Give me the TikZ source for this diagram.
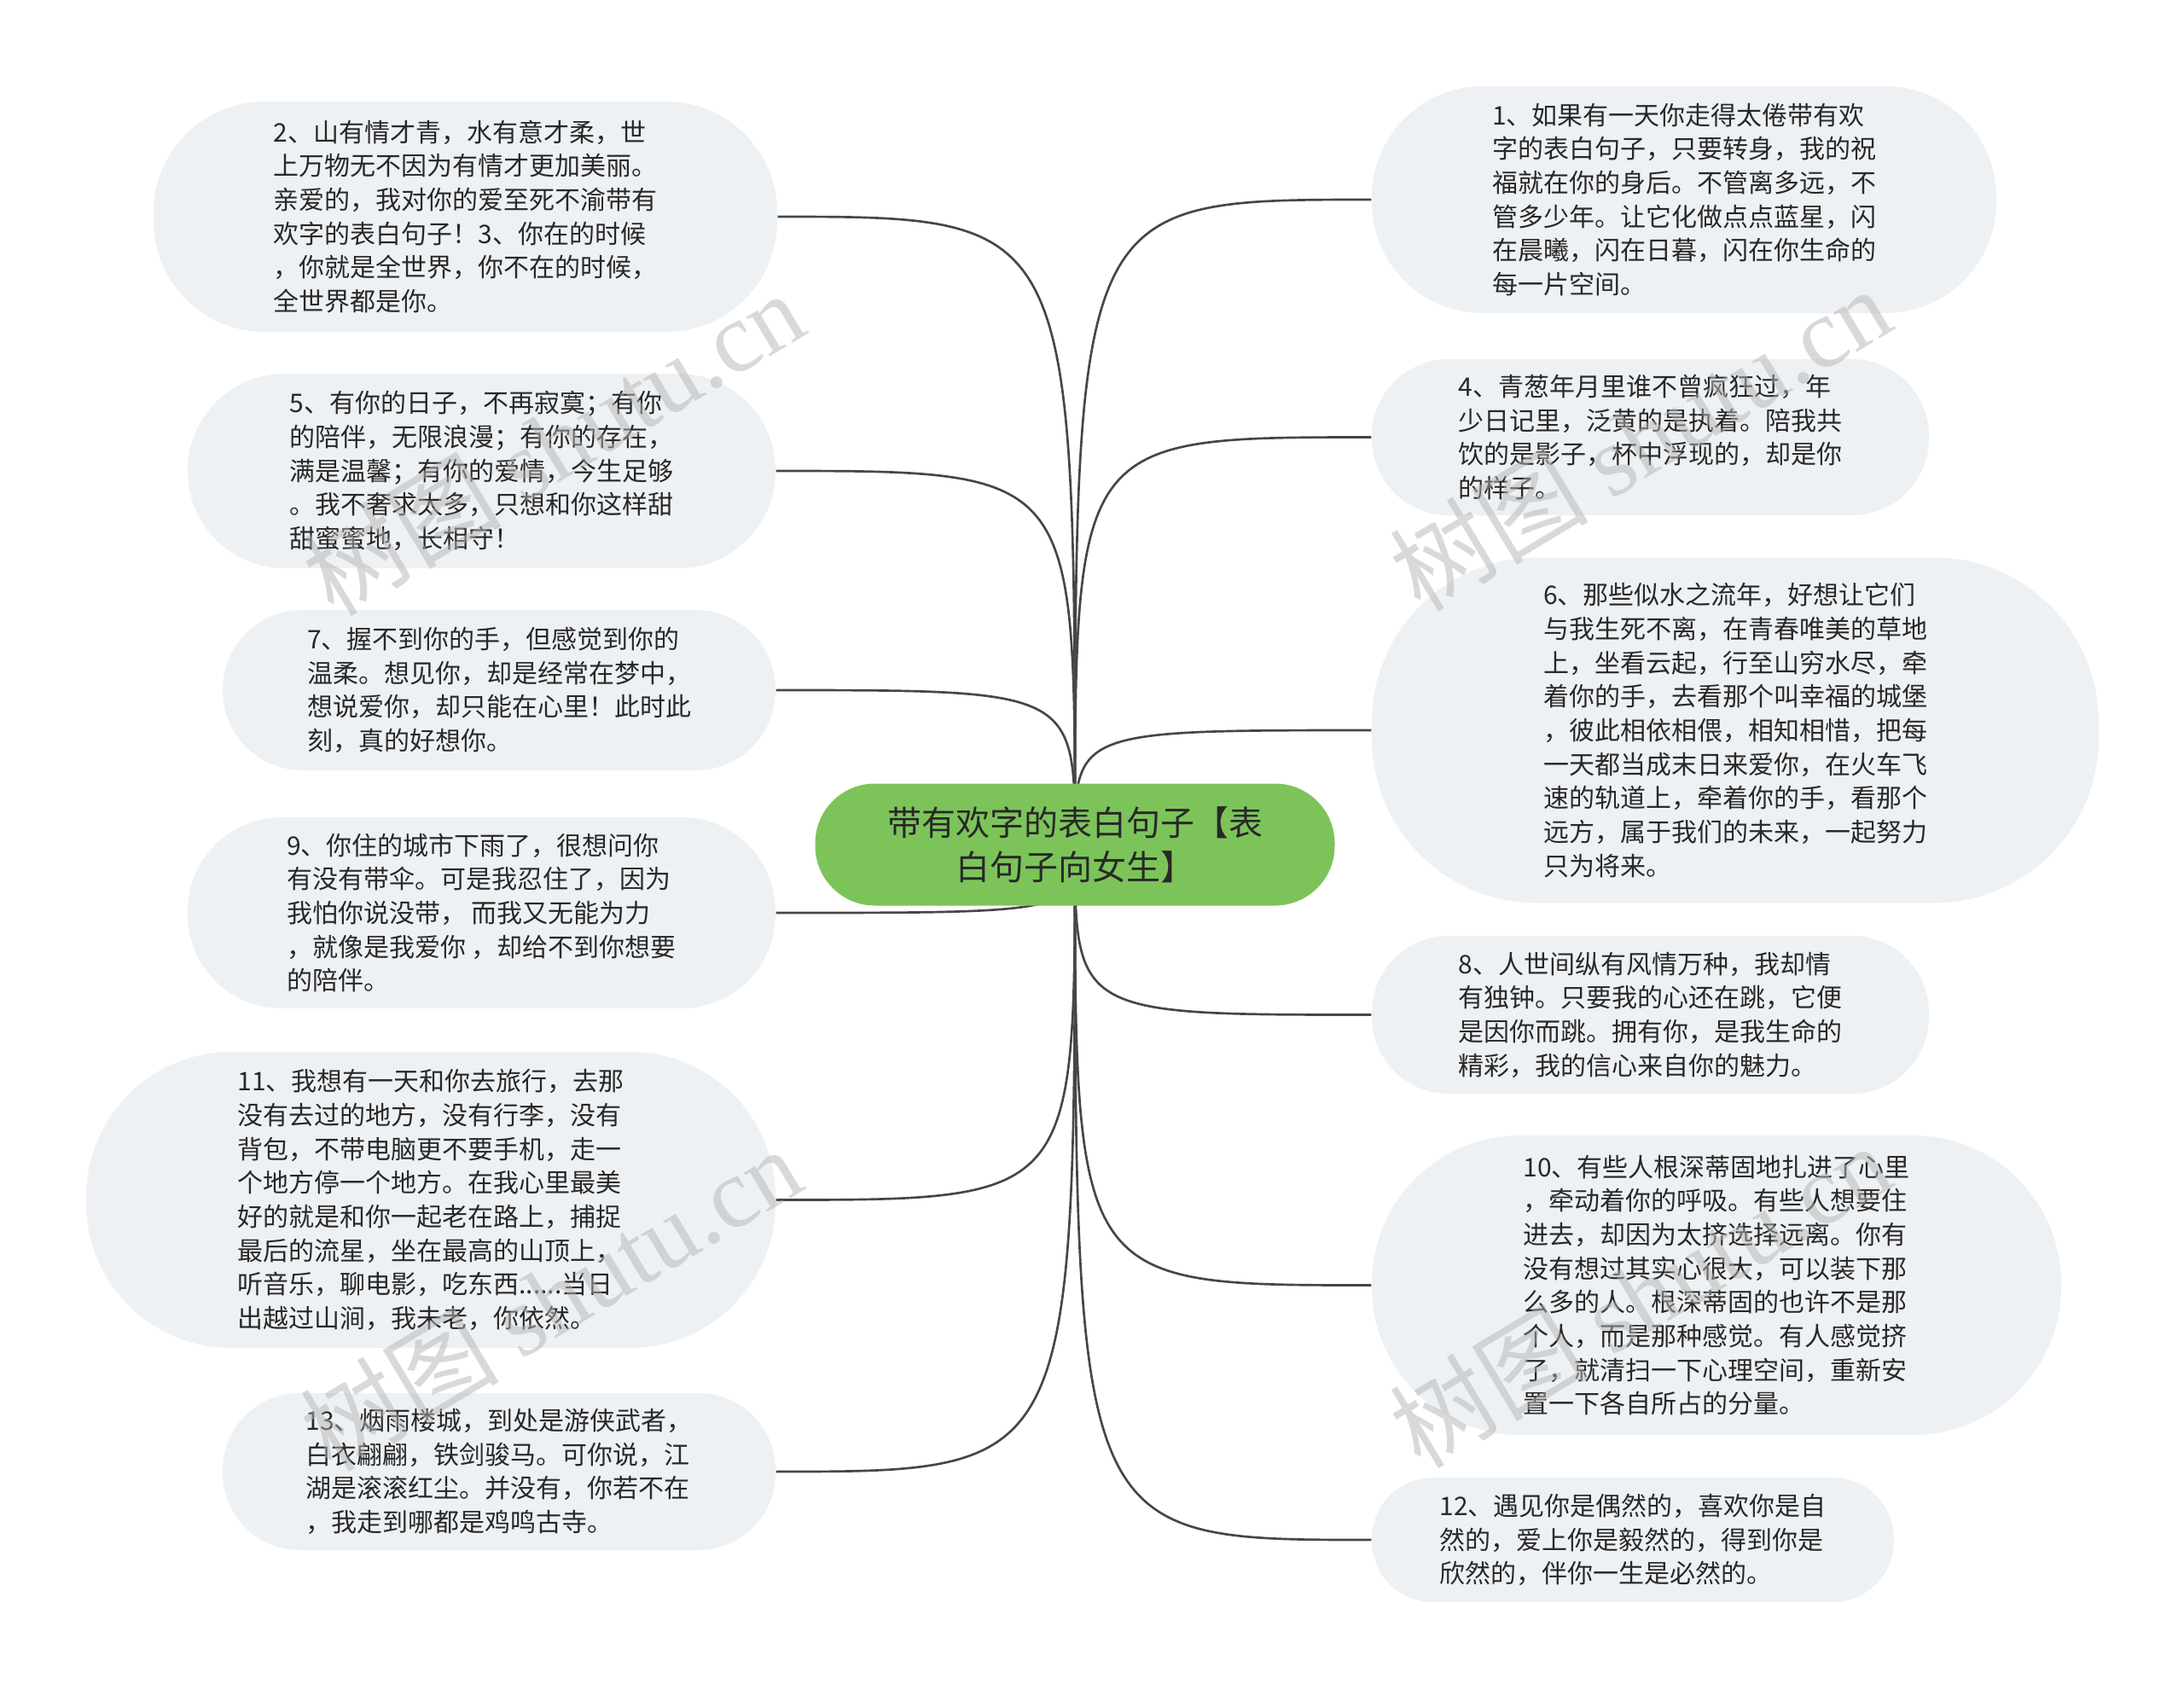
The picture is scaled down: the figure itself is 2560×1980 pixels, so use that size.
\documentclass[tikz,border=0pt]{standalone}
\usepackage{fontspec}
\setmainfont{Noto Sans CJK SC}
\newfontfamily\wmserif{Liberation Serif}
\usetikzlibrary{backgrounds}
\definecolor{leaffill}{RGB}{238,241,244}
\definecolor{rootfill}{RGB}{124,196,90}
\definecolor{linecol}{RGB}{70,70,70}
\definecolor{txt}{RGB}{40,40,40}
\definecolor{wm}{RGB}{180,180,180}
\begin{document}
\begin{tikzpicture}[x=0.3pt,y=-0.3pt,
  leaf/.style={fill=leaffill, align=left, text=txt, font=\fontsize{9.0}{11.9}\selectfont, inner sep=0pt},
  rootnode/.style={fill=rootfill, align=center, text=txt, font=\fontsize{12}{15.7}\selectfont, inner sep=0pt, minimum width=182.7pt, minimum height=42.9pt, rounded corners=21pt},
  conn/.style={draw=linecol, line width=0.8pt},
  wmark/.style={text=wm, opacity=0.5, rotate=31, font=\fontsize{35}{40}\selectfont}
]
\useasboundingbox (0,0) rectangle (2560,1980);

\node[rootnode] (root) at (1260,990) {带有欢字的表白句子【表\\白句子向女生】};

% left side
\node[leaf, minimum width=219.3pt, minimum height=81pt, rounded corners=39pt] (n2) at (545.5,254) {2、山有情才青，水有意才柔，世\\上万物无不因为有情才更加美丽。\\亲爱的，我对你的爱至死不渝带有\\欢字的表白句子！3、你在的时候\\，你就是全世界，你不在的时候，\\全世界都是你。};
\node[leaf, minimum width=206.7pt, minimum height=68.4pt, rounded corners=34pt] (n5) at (564.5,552) {5、有你的日子，不再寂寞；有你\\的陪伴，无限浪漫；有你的存在，\\满是温馨；有你的爱情，今生足够\\。我不奢求太多，只想和你这样甜\\甜蜜蜜地，长相守！};
\node[leaf, minimum width=194.4pt, minimum height=56.4pt, rounded corners=28pt] (n7) at (585,809) {7、握不到你的手，但感觉到你的\\温柔。想见你，却是经常在梦中，\\想说爱你，却只能在心里！此时此\\刻，真的好想你。};
\node[leaf, minimum width=206.7pt, minimum height=67.2pt, rounded corners=33pt] (n9) at (564.5,1070) {9、你住的城市下雨了，很想问你\\有没有带伞。可是我忍住了，因为\\我怕你说没带， 而我又无能为力\\，就像是我爱你 ，却给不到你想要\\的陪伴。};
\node[leaf, minimum width=242.4pt, minimum height=104.1pt, rounded corners=51pt] (n11) at (505,1406.5) {11、我想有一天和你去旅行，去那\\没有去过的地方，没有行李，没有\\背包，不带电脑更不要手机，走一\\个地方停一个地方。在我心里最美\\好的就是和你一起老在路上，捕捉\\最后的流星，坐在最高的山顶上，\\听音乐，聊电影，吃东西......当日\\出越过山涧，我未老，你依然。};
\node[leaf, minimum width=194.4pt, minimum height=55.2pt, rounded corners=27pt] (n13) at (585,1725) {13、烟雨楼城，到处是游侠武者，\\白衣翩翩，铁剑骏马。可你说，江\\湖是滚滚红尘。并没有，你若不在\\，我走到哪都是鸡鸣古寺。};

% right side
\node[leaf, minimum width=219.6pt, minimum height=79.8pt, rounded corners=39pt] (n1) at (1974,234) {1、如果有一天你走得太倦带有欢\\字的表白句子，只要转身，我的祝\\福就在你的身后。不管离多远，不\\管多少年。让它化做点点蓝星，闪\\在晨曦，闪在日暮，闪在你生命的\\每一片空间。};
\node[leaf, minimum width=195.9pt, minimum height=54.9pt, rounded corners=27pt] (n4) at (1934.5,512.5) {4、青葱年月里谁不曾疯狂过，年\\少日记里，泛黄的是执着。陪我共\\饮的是影子，杯中浮现的，却是你\\的样子。};
\node[leaf, minimum width=255.6pt, minimum height=121.5pt, rounded corners=58pt] (n6) at (2034,856) {6、那些似水之流年，好想让它们\\与我生死不离，在青春唯美的草地\\上，坐看云起，行至山穷水尽，牵\\着你的手，去看那个叫幸福的城堡\\，彼此相依相偎，相知相惜，把每\\一天都当成末日来爱你，在火车飞\\速的轨道上，牵着你的手，看那个\\远方，属于我们的未来，一起努力\\只为将来。};
\node[leaf, minimum width=195.9pt, minimum height=55.5pt, rounded corners=27pt] (n8) at (1934.5,1189.5) {8、人世间纵有风情万种，我却情\\有独钟。只要我的心还在跳，它便\\是因你而跳。拥有你，是我生命的\\精彩，我的信心来自你的魅力。};
\node[leaf, minimum width=242.4pt, minimum height=105.3pt, rounded corners=52pt] (n10) at (2012,1506.5) {10、有些人根深蒂固地扎进了心里\\，牵动着你的呼吸。有些人想要住\\进去，却因为太挤选择远离。你有\\没有想过其实心很大，可以装下那\\么多的人。根深蒂固的也许不是那\\个人，而是那种感觉。有人感觉挤\\了，就清扫一下心理空间，重新安\\置一下各自所占的分量。};
\node[leaf, minimum width=183.6pt, minimum height=43.8pt, rounded corners=21.5pt] (n12) at (1914,1805) {12、遇见你是偶然的，喜欢你是自\\然的，爱上你是毅然的，得到你是\\欣然的，伴你一生是必然的。};

\begin{scope}[on background layer]
  \fill[white] (0,0) rectangle (2560,1980);
  \foreach \n in {n2,n5,n7,n9,n11,n13}
    \draw[conn] (root.center) .. controls (root.center |- \n.east) .. (\n.east);
  \foreach \n in {n1,n4,n6,n8,n10,n12}
    \draw[conn] (root.center) .. controls (root.center |- \n.west) .. (\n.west);
\end{scope}

% watermarks
\node[wmark] (wm1) at (648,519) {树图 {\wmserif shutu.cn}};
\node[wmark] (wm2) at (1922,514) {树图 {\wmserif shutu.cn}};
\node[wmark] (wm3) at (645,1522) {树图 {\wmserif shutu.cn}};
\node[wmark] (wm4) at (1922,1518) {树图 {\wmserif shutu.cn}};
\end{tikzpicture}
\end{document}
